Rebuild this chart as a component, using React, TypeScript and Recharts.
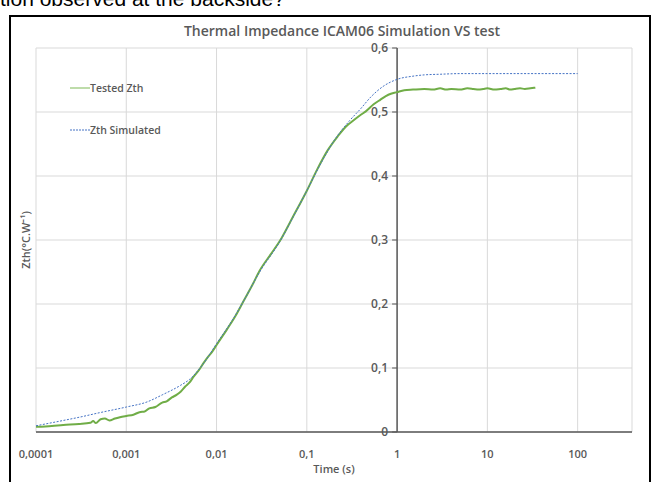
import React from "react";
import {
  LineChart,
  Line,
  XAxis,
  YAxis,
  CartesianGrid,
  ReferenceLine,
} from "recharts";

const xTicks = [0.0001, 0.001, 0.01, 0.1, 1, 10, 100];
const yTicks = [0, 0.1, 0.2, 0.3, 0.4, 0.5, 0.6];

const simulated = [
  { t: 0.0001, z: 0.0097 },
  { t: 0.0002, z: 0.018 },
  { t: 0.0003, z: 0.023 },
  { t: 0.0005, z: 0.03 },
  { t: 0.001, z: 0.039 },
  { t: 0.0017, z: 0.047 },
  { t: 0.0025, z: 0.058 },
  { t: 0.004, z: 0.073 },
  { t: 0.005, z: 0.082 },
  { t: 0.007, z: 0.105 },
  { t: 0.01, z: 0.138 },
  { t: 0.015, z: 0.175 },
  { t: 0.02, z: 0.205 },
  { t: 0.03, z: 0.25 },
  { t: 0.05, z: 0.297 },
  { t: 0.07, z: 0.335 },
  { t: 0.1, z: 0.377 },
  { t: 0.15, z: 0.425 },
  { t: 0.2, z: 0.455 },
  { t: 0.3, z: 0.487 },
  { t: 0.4, z: 0.506 },
  { t: 0.5, z: 0.522 },
  { t: 0.7, z: 0.54 },
  { t: 1, z: 0.551 },
  { t: 1.5, z: 0.556 },
  { t: 2, z: 0.558 },
  { t: 3, z: 0.559 },
  { t: 5, z: 0.56 },
  { t: 10, z: 0.56 },
  { t: 100, z: 0.56 },
];

const tested = [
  { t: 0.0001, z: 0.008 },
  { t: 0.00015, z: 0.0095 },
  { t: 0.0002, z: 0.011 },
  { t: 0.0003, z: 0.0125 },
  { t: 0.0004, z: 0.0145 },
  { t: 0.00043, z: 0.017 },
  { t: 0.00046, z: 0.014 },
  { t: 0.00052, z: 0.02 },
  { t: 0.00058, z: 0.021 },
  { t: 0.00065, z: 0.018 },
  { t: 0.00075, z: 0.021 },
  { t: 0.00085, z: 0.023 },
  { t: 0.001, z: 0.025 },
  { t: 0.0012, z: 0.027 },
  { t: 0.0014, z: 0.031 },
  { t: 0.0016, z: 0.032 },
  { t: 0.0018, z: 0.037 },
  { t: 0.0021, z: 0.039 },
  { t: 0.0025, z: 0.046 },
  { t: 0.0028, z: 0.048 },
  { t: 0.0032, z: 0.054 },
  { t: 0.0036, z: 0.058 },
  { t: 0.004, z: 0.063 },
  { t: 0.0045, z: 0.071 },
  { t: 0.005, z: 0.077 },
  { t: 0.0056, z: 0.087 },
  { t: 0.0064, z: 0.097 },
  { t: 0.0072, z: 0.108 },
  { t: 0.008, z: 0.117 },
  { t: 0.009, z: 0.126 },
  { t: 0.01, z: 0.136 },
  { t: 0.013, z: 0.16 },
  { t: 0.016, z: 0.18 },
  { t: 0.02, z: 0.205 },
  { t: 0.025, z: 0.23 },
  { t: 0.03, z: 0.252 },
  { t: 0.04, z: 0.278 },
  { t: 0.05, z: 0.298 },
  { t: 0.07, z: 0.336 },
  { t: 0.1, z: 0.377 },
  { t: 0.13, z: 0.41 },
  { t: 0.17, z: 0.44 },
  { t: 0.22, z: 0.462 },
  { t: 0.27, z: 0.477 },
  { t: 0.33, z: 0.487 },
  { t: 0.4, z: 0.496 },
  { t: 0.45, z: 0.501 },
  { t: 0.55, z: 0.512 },
  { t: 0.65, z: 0.519 },
  { t: 0.8, z: 0.527 },
  { t: 1, z: 0.531 },
  { t: 1.2, z: 0.534 },
  { t: 1.5, z: 0.535 },
  { t: 2, z: 0.536 },
  { t: 2.5, z: 0.535 },
  { t: 3, z: 0.537 },
  { t: 3.5, z: 0.535 },
  { t: 4, z: 0.536 },
  { t: 5, z: 0.535 },
  { t: 6, z: 0.537 },
  { t: 7, z: 0.536 },
  { t: 8, z: 0.535 },
  { t: 9, z: 0.536 },
  { t: 10, z: 0.537 },
  { t: 12, z: 0.535 },
  { t: 14, z: 0.536 },
  { t: 16, z: 0.537 },
  { t: 18, z: 0.535 },
  { t: 20, z: 0.536 },
  { t: 23, z: 0.537 },
  { t: 26, z: 0.536 },
  { t: 30, z: 0.537 },
  { t: 34, z: 0.538 },
];

const W = 657;
const H = 482;
const margin = { top: 48, right: 25, bottom: 30, left: 0 };
const yAxisW = 36;
const xMin = 0.0001;
const xMax = 400;
const plotLeft = margin.left + yAxisW;
const plotW = W - plotLeft - margin.right;
// pixel position of t = 1, where the value axis crosses
const xOne =
  plotLeft +
  (plotW * (Math.log10(1) - Math.log10(xMin))) /
    (Math.log10(xMax) - Math.log10(xMin));

const FONT = "'Open Sans', sans-serif";
const GREY = "#595959";

const fmt = (v: number) => String(v).replace(".", ",");

const YTick = (props: any) => {
  const { y, payload } = props;
  return (
    <g>
      <line x1={xOne - 5} x2={xOne} y1={y} y2={y} stroke={GREY} strokeWidth={1} />
      <text
        x={xOne - 9}
        y={y}
        dy={4}
        textAnchor="end"
        fontFamily={FONT}
        fontSize={12}
        fontWeight={600}
        fill={GREY}
      >
        {fmt(payload.value)}
      </text>
    </g>
  );
};

export default function App() {
  return (
    <div
      style={{
        position: "absolute",
        left: 0,
        top: 0,
        width: W,
        height: H,
        overflow: "hidden",
        background: "#fff",
      }}
    >
      <div
        style={{
          position: "absolute",
          left: 0,
          top: -13,
          fontFamily: "'Liberation Sans', Arial, sans-serif",
          fontSize: 21,
          color: "#000",
          whiteSpace: "nowrap",
        }}
      >
        tion observed at the backside?
      </div>
      <div
        style={{
          position: "absolute",
          left: 9,
          top: 15,
          width: 638,
          height: 480,
          borderLeft: "2px solid #000",
          borderTop: "2px solid #000",
          borderRight: "2px solid #000",
        }}
      />
      <div style={{ position: "absolute", left: 0, top: 0 }}>
        <LineChart width={W} height={H} margin={margin}>
          <CartesianGrid stroke="#d9d9d9" strokeWidth={1} />
          <XAxis
            type="number"
            dataKey="t"
            scale="log"
            domain={[xMin, xMax]}
            allowDataOverflow
            ticks={xTicks}
            tickFormatter={fmt}
            height={20}
            tickLine={false}
            tickMargin={12}
            axisLine={{ stroke: GREY, strokeWidth: 1.5 }}
            tick={{ fontFamily: FONT, fontSize: 11, fontWeight: 600, fill: GREY }}
          />
          <YAxis
            type="number"
            domain={[0, 0.6]}
            ticks={yTicks}
            width={yAxisW}
            axisLine={false}
            tickLine={false}
            tick={<YTick />}
          />
          <ReferenceLine x={1} stroke={GREY} strokeWidth={1.5} />
          <Line
            data={tested}
            dataKey="z"
            name="Tested Zth"
            type="monotone"
            stroke="#70AD47"
            strokeWidth={2}
            dot={false}
            isAnimationActive={false}
          />
          <Line
            data={simulated}
            dataKey="z"
            name="Zth Simulated"
            type="monotone"
            stroke="#4472C4"
            strokeWidth={1}
            strokeDasharray="2 1.5"
            dot={false}
            isAnimationActive={false}
          />
        </LineChart>
      </div>
      <div
        style={{
          position: "absolute",
          left: 0,
          top: 21,
          width: 684,
          textAlign: "center",
          fontFamily: FONT,
          fontSize: 14,
          fontWeight: 600,
          color: GREY,
        }}
      >
        Thermal Impedance ICAM06 Simulation VS test
      </div>
      <div
        style={{
          position: "absolute",
          left: 0,
          top: 461,
          width: 668,
          textAlign: "center",
          fontFamily: FONT,
          fontSize: 11,
          fontWeight: 600,
          color: GREY,
        }}
      >
        Time (s)
      </div>
      <div
        style={{
          position: "absolute",
          left: 25,
          top: 240,
          transform: "translate(-50%, -50%) rotate(-90deg)",
          fontFamily: FONT,
          fontSize: 11,
          fontWeight: 600,
          color: GREY,
          whiteSpace: "nowrap",
        }}
      >
        Zth(°C.W⁻¹)
      </div>
      <div
        style={{
          position: "absolute",
          left: 70,
          top: 80,
          fontFamily: FONT,
          fontSize: 10.5,
          fontWeight: 600,
          color: GREY,
        }}
      >
        <div style={{ display: "flex", alignItems: "center", height: 16 }}>
          <svg width={20} height={4}>
            <line x1={0} x2={20} y1={2} y2={2} stroke="#A9D18E" strokeWidth={1.5} />
          </svg>
          <span>Tested Zth</span>
        </div>
        <div style={{ display: "flex", alignItems: "center", height: 16, marginTop: 26 }}>
          <svg width={20} height={4}>
            <line x1={0} x2={20} y1={2} y2={2} stroke="#4472C4" strokeWidth={1} strokeDasharray="2 1" />
          </svg>
          <span>Zth Simulated</span>
        </div>
      </div>
    </div>
  );
}
